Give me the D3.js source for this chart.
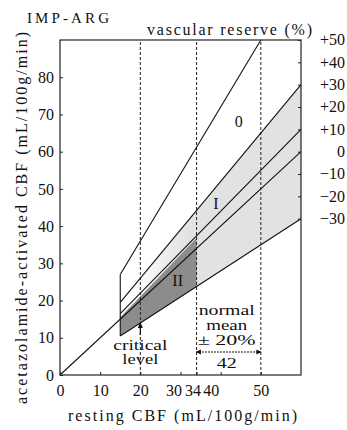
<!DOCTYPE html>
<html>
<head>
<meta charset="utf-8">
<script src="https://cdn.jsdelivr.net/npm/d3@7"></script>
<style>
  body { margin: 0; background: #fff; }
  text { font-family: "Liberation Serif", "DejaVu Serif", serif; fill: #111; }
</style>
</head>
<body>
<svg id="chart" width="347" height="430"></svg>
<script>
// data
var xTicks = [0, 10, 20, 30, 34, 40, 50];
var yTicks = [0, 10, 20, 30, 40, 50, 60, 70, 80];
var reserveTicks = [50, 40, 30, 20, 10, 0, -10, -20, -30];
var reserveRef = 60;               // resting CBF at right edge
var ratioLines = [1.8, 1.3, 1.1, 1.0, 0.7];   // activated / resting
var criticalLevel = 15;
var normalMean = 42;                // +-20% -> 34 .. 50
var dashedAt = [20, 34, 50];
var lightBand = { upper: 1.3, lower: 0.7 };
var darkBand = [[15, 10.5], [34, 23.8], [34, 36.8], [15, 15.5]];
var regionLabels = [
  { t: '0', x: 44.5, y: 68 },
  { t: 'I', x: 38.8, y: 46 },
  { t: 'II', x: 29.3, y: 25.5 }
];

var svg = d3.select('#chart');
var x = d3.scaleLinear().domain([0, 60]).range([60, 301]);
var y = d3.scaleLinear().domain([0, 90]).range([375, 40]);

var defs = svg.append('defs');
var grad = defs.append('linearGradient').attr('id', 'fade')
  .attr('gradientUnits', 'userSpaceOnUse')
  .attr('x1', x(18)).attr('x2', x(32)).attr('y1', 0).attr('y2', 0);
grad.append('stop').attr('offset', 0).attr('stop-color', '#fff');
grad.append('stop').attr('offset', 1).attr('stop-color', '#e2e2e2');

// light stippled band
var band = [];
[15, 60].forEach(function(v) { band.push([v, v * lightBand.upper]); });
[60, 15].forEach(function(v) { band.push([v, v * lightBand.lower]); });
var line = d3.line().x(function(d) { return x(d[0]); }).y(function(d) { return y(d[1]); });
svg.append('path').attr('d', line(band) + 'Z').attr('fill', 'url(#fade)');

// dark region II
svg.append('path').attr('d', line(darkBand) + 'Z').attr('fill', '#8c8c8c');

// dashed verticals
svg.selectAll('line.dash').data(dashedAt).enter().append('line')
  .attr('x1', function(d) { return x(d); }).attr('x2', function(d) { return x(d); })
  .attr('y1', y(0)).attr('y2', y(90))
  .attr('stroke', '#222').attr('stroke-width', 1).attr('stroke-dasharray', '3,2');

// ratio lines
svg.selectAll('line.ratio').data(ratioLines).enter().append('line')
  .attr('x1', function(d) { return x(d === 1 ? 0 : criticalLevel); })
  .attr('y1', function(d) { return y(d === 1 ? 0 : criticalLevel * d); })
  .attr('x2', function(d) { return x(Math.min(60, 90 / d)); })
  .attr('y2', function(d) { return y(Math.min(60, 90 / d) * d); })
  .attr('stroke', '#111').attr('stroke-width', 1.1);

// critical level vertical
svg.append('line')
  .attr('x1', x(criticalLevel)).attr('x2', x(criticalLevel))
  .attr('y1', y(criticalLevel * 0.7)).attr('y2', y(criticalLevel * 1.8))
  .attr('stroke', '#111').attr('stroke-width', 1.1);

// frame
svg.append('rect').attr('x', x(0)).attr('y', y(90))
  .attr('width', x(60) - x(0)).attr('height', y(0) - y(90))
  .attr('fill', 'none').attr('stroke', '#222').attr('stroke-width', 1.2);

// axes
var xAxis = svg.append('g').attr('transform', 'translate(0,' + y(0) + ')')
  .call(d3.axisBottom(x).tickValues(xTicks).tickSize(-3).tickPadding(10));
var xShift = { 30: -7, 34: -4, 40: -10 };
xAxis.selectAll('text').attr('dx', function(d) { return xShift[d] || 0; });

var yAxis = svg.append('g').attr('transform', 'translate(' + x(0) + ',0)')
  .call(d3.axisLeft(y).tickValues(yTicks).tickSize(-3).tickPadding(6));

var rAxis = svg.append('g').attr('transform', 'translate(' + x(60) + ',0)')
  .call(d3.axisRight(y).tickValues(reserveTicks.map(function(p) { return reserveRef * (1 + p / 100); }))
    .tickSize(-3).tickFormat(function(d, i) {
      var p = reserveTicks[i];
      return p > 0 ? '+' + p : (p < 0 ? '\u2212' + (-p) : '0');
    }));
rAxis.selectAll('text').attr('x', 44).attr('text-anchor', 'end').attr('dy', '0.3em');

[xAxis, yAxis, rAxis].forEach(function(g) {
  g.select('.domain').remove();
  g.selectAll('line').attr('stroke', '#222');
  g.selectAll('text').attr('font-size', 16).attr('font-family', '"Liberation Serif", serif').attr('fill', '#111');
});

// region labels
svg.selectAll('text.reg').data(regionLabels).enter().append('text')
  .attr('x', function(d) { return x(d.x); }).attr('y', function(d) { return y(d.y); })
  .attr('text-anchor', 'middle').attr('dy', '0.35em').attr('font-size', 16)
  .text(function(d) { return d.t; });

// titles
svg.append('text').attr('x', 27).attr('y', 23).attr('font-size', 15)
  .attr('textLength', 82).text('IMP-ARG');
svg.append('text').attr('x', 147).attr('y', 35).attr('font-size', 16)
  .attr('textLength', 165).text('vascular reserve (%)');
svg.append('text').attr('x', 68).attr('y', 421).attr('font-size', 16)
  .attr('textLength', 229).text('resting CBF (mL/100g/min)');
svg.append('text').attr('transform', 'translate(27,218) rotate(-90)')
  .attr('text-anchor', 'middle').attr('font-size', 16)
  .attr('textLength', 372).text('acetazolamide-activated CBF (mL/100g/min)');

// annotation helper: centred text widened to the reference width
function note(tx, ty, str, w) {
  svg.append('text').attr('x', tx - w / 2).attr('y', ty).attr('font-size', 14)
    .attr('textLength', w).attr('lengthAdjust', 'spacingAndGlyphs').text(str);
}

// critical level annotation
var cx = x(20);
note(cx, 350, 'critical', 54);
note(cx, 364, 'level', 36);
svg.append('line').attr('x1', cx).attr('x2', cx).attr('y1', 335).attr('y2', 324)
  .attr('stroke', '#111').attr('stroke-width', 1.2);
svg.append('path').attr('d', 'M' + (cx - 2.5) + ',328 L' + cx + ',322 L' + (cx + 2.5) + ',328 Z').attr('fill', '#111');

// normal mean annotation
var nx = x(normalMean) - 2;
note(nx, 315, 'normal', 56);
note(nx, 330, 'mean', 41);
note(nx, 345, '\u00b1 20%', 58);
var ax0 = x(normalMean * 0.8), ax1 = x(normalMean * 1.2);
svg.append('line').attr('x1', ax0 + 1).attr('x2', ax1 - 1).attr('y1', 352).attr('y2', 352)
  .attr('stroke', '#111').attr('stroke-width', 1).attr('stroke-dasharray', '2,1');
svg.append('path').attr('d', 'M' + (ax0 + 1) + ',352 l5,-2.5 l0,5 Z').attr('fill', '#111');
svg.append('path').attr('d', 'M' + (ax1 - 1) + ',352 l-5,-2.5 l0,5 Z').attr('fill', '#111');
note(nx, 368, String(normalMean), 20);
</script>
</body>
</html>
